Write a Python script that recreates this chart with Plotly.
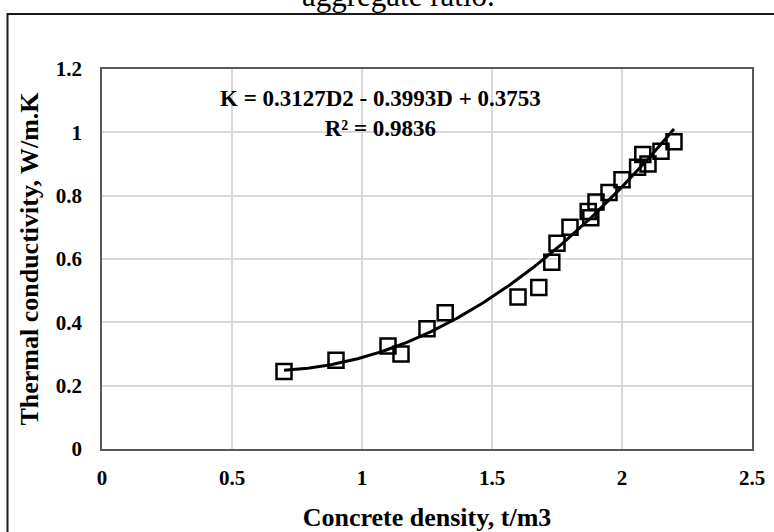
import numpy as np
import plotly.graph_objects as go

# Measured concrete density (t/m3) and thermal conductivity (W/m.K)
density = [0.70, 0.90, 1.10, 1.15, 1.25, 1.32, 1.60, 1.68, 1.73, 1.75, 1.80,
           1.87, 1.88, 1.90, 1.95, 2.00, 2.06, 2.08, 2.10, 2.15, 2.20]
conductivity = [0.245, 0.28, 0.325, 0.30, 0.38, 0.43, 0.48, 0.51, 0.59, 0.65, 0.70,
                0.75, 0.73, 0.78, 0.81, 0.85, 0.89, 0.93, 0.90, 0.94, 0.97]

# Second-order polynomial trendline coefficients (K = a*D^2 + b*D + c)
coef_a, coef_b, coef_c = 0.3127, -0.3993, 0.3753
r_squared = 0.9836

x_ticks = [0, 0.5, 1, 1.5, 2, 2.5]
x_tick_labels = ["0", "0.5", "1", "1.5", "2", "2.5"]
y_ticks = [0, 0.2, 0.4, 0.6, 0.8, 1.0, 1.2]
y_tick_labels = ["0", "0.2", "0.4", "0.6", "0.8", "1", "1.2"]

trend_x = np.linspace(min(density), max(density), 200)
trend_y = coef_a * trend_x ** 2 + coef_b * trend_x + coef_c

FONT = "Liberation Serif"
W, H = 774, 532
L, R, T, B = 102, 22, 69, 83
pw, ph = W - L - R, H - T - B


def px_to_paper_x(px):
    return (px - L) / pw


def px_to_paper_y(py):
    return (H - B - py) / ph


fig = go.Figure()

fig.add_trace(go.Scatter(
    x=trend_x, y=trend_y, mode="lines",
    line=dict(color="black", width=3),
    hoverinfo="skip", showlegend=False,
))

fig.add_trace(go.Scatter(
    x=density, y=conductivity, mode="markers",
    marker=dict(symbol="square-open", size=15, color="black",
                line=dict(color="black", width=2.5)),
    showlegend=False,
))

fig.add_annotation(
    x=1.07, y=1.06, xref="x", yref="y",
    text=(f"K = {coef_a}D2 - {abs(coef_b)}D + {coef_c}<br>"
          f"R² = {r_squared}"),
    showarrow=False, align="center",
    font=dict(family=FONT, size=23, color="black", weight="bold"),
)

# Chart title (partly above the frame)
fig.add_annotation(
    x=px_to_paper_x(398), y=px_to_paper_y(-5), xref="paper", yref="paper",
    text="aggregate ratio.", showarrow=False,
    xanchor="center", yanchor="middle",
    font=dict(family=FONT, size=31, color="black"),
)

# Outer chart frame
fig.add_shape(
    type="rect", xref="paper", yref="paper",
    x0=px_to_paper_x(7.5), x1=px_to_paper_x(800),
    y0=px_to_paper_y(560), y1=px_to_paper_y(14),
    line=dict(color="#1a1a1a", width=2), fillcolor="rgba(0,0,0,0)",
)

axis_common = dict(
    showgrid=True, gridcolor="#d9d9d9", gridwidth=1.5,
    showline=True, linecolor="#595959", linewidth=1.75, mirror=True,
    zeroline=False, ticks="", automargin=False,
    tickfont=dict(family=FONT, size=21, color="black", weight="bold"),
)

fig.update_xaxes(
    range=[0, 2.5], tickvals=x_ticks, ticktext=x_tick_labels,
    ticklabelstandoff=9,
    title=dict(text="Concrete density, t/m3", standoff=20,
               font=dict(family=FONT, size=26, color="black", weight="bold")),
    **axis_common,
)
fig.update_yaxes(
    range=[0, 1.2], tickvals=y_ticks, ticktext=y_tick_labels,
    ticklabelstandoff=14,
    title=dict(text="Thermal conductivity, W/m.K", standoff=10,
               font=dict(family=FONT, size=26, color="black", weight="bold")),
    **axis_common,
)

fig.update_layout(
    width=W, height=H,
    margin=dict(l=L, r=R, t=T, b=B),
    paper_bgcolor="white", plot_bgcolor="white",
)

fig.write_html("out.html")
